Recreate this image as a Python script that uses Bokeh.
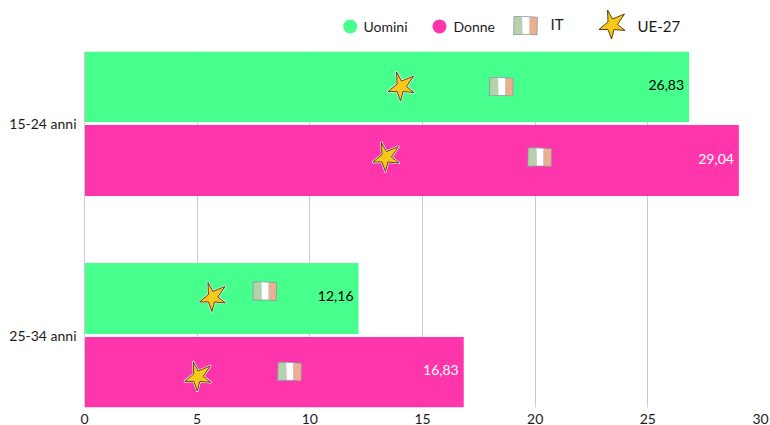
from urllib.parse import quote
from bokeh.embed import file_html
from bokeh.layouts import column
from bokeh.models import ColumnDataSource, FactorRange, Range1d, FixedTicker
from bokeh.plotting import figure
from bokeh.resources import INLINE
from bokeh.transform import dodge
from bokeh.core.properties import value

categories = ["15-24 anni", "25-34 anni"]
uomini = [26.83, 12.16]
donne = [29.04, 16.83]
it_uomini = [18.5, 8.0]
it_donne = [20.2, 9.1]
ue_uomini = [14.07, 5.7]
ue_donne = [13.4, 5.05]
legend_labels = ["Uomini", "Donne", "IT", "UE-27"]
x_ticks = [0, 5, 10, 15, 20, 25, 30]

GREEN = "#47ff8c"
PINK = "#ff36ab"
FONT = "Lato"

FLAG_SVG = (
    "<svg xmlns='http://www.w3.org/2000/svg' width='75' height='60' viewBox='0 0 25 20'>"
    "<path d='M1 1 L9 0.8 L9.5 19 L0.6 19.3 Z' fill='#b6d2aa'/>"
    "<path d='M9 0.8 L16.5 1.2 L16.5 19 L9.5 19 Z' fill='#ffffff'/>"
    "<path d='M16.5 1.2 L24.4 1.8 L24 19.6 L16.5 19 Z' fill='#ecb091'/>"
    "<path d='M1 1 L9 0.8 L16.5 1.2 L24.4 1.8 L24 19.6 L16.5 19 L9.5 19 L0.6 19.3 Z' fill='none' "
    "stroke='#8a94a6' stroke-width='0.8'/>"
    "<path d='M8.8 1 L9.3 19 M16.4 1.3 L16.5 19' stroke='#c4cbd4' stroke-width='0.5'/>"
    "</svg>"
)
STAR_PTS = "10,2 15,11 27,6 20,16.5 27.5,22.5 16.5,21.5 14,31 10.5,21.5 1.5,21.5 10.5,14"
STAR_SVG = (
    "<svg xmlns='http://www.w3.org/2000/svg' width='90' height='99' viewBox='0 0 30 33'>"
    f"<polygon points='{STAR_PTS}' fill='none' stroke='#f8f5ee' stroke-width='2.2' stroke-linejoin='round'/>"
    f"<polygon points='{STAR_PTS}' fill='#f9c818' stroke='#2a2015' stroke-width='0.8' stroke-linejoin='round'/>"
    "</svg>"
)
FLAG_URI = "data:image/svg+xml," + quote(FLAG_SVG)
STAR_URI = "data:image/svg+xml," + quote(STAR_SVG)

fmt = lambda v: f"{v:.2f}".replace(".", ",")
src = ColumnDataSource(dict(
    y=categories, uomini=uomini, donne=donne,
    lab_u=[fmt(v) for v in uomini], lab_d=[fmt(v) for v in donne],
))

UNIT = 212.0  # pixels per category band
OFF = 0.1745
p = figure(
    width=762, height=374, output_backend="svg", toolbar_location=None,
    x_range=Range1d(0, 30),
    y_range=FactorRange(factors=categories[::-1], range_padding=-0.16, range_padding_units="absolute"),
    frame_width=676, frame_height=356,
    min_border_left=77, min_border_right=9, min_border_top=0, min_border_bottom=18,
    outline_line_color=None, margin=(0, 0, 0, 0),
)
p.ygrid.visible = False
p.xgrid.grid_line_color = "#cccccc"
p.xgrid.grid_line_width = 1
p.xaxis.ticker = FixedTicker(ticks=x_ticks)
for ax in (p.xaxis[0], p.yaxis[0]):
    ax.major_tick_line_color = None
    ax.minor_tick_line_color = None
    ax.major_label_text_font = FONT
    ax.major_label_text_font_size = "14px"
    ax.major_label_text_color = "#1a1a1a"
p.xaxis.axis_line_color = None
p.xaxis.major_label_standoff = 0
p.yaxis.axis_line_color = "#cccccc"
p.yaxis.major_label_standoff = 2

p.hbar(y=dodge("y", OFF, range=p.y_range), right="uomini", left=0, height=0.335,
       source=src, color=GREEN, line_color=None)
p.hbar(y=dodge("y", -OFF, range=p.y_range), right="donne", left=0, height=0.335,
       source=src, color=PINK, line_color=None)

for col, lab, off, tcol in (("uomini", "lab_u", OFF, "#000000"), ("donne", "lab_d", -OFF, "#ffffff")):
    p.text(x=col, y=dodge("y", off, range=p.y_range), text=lab, source=src,
           text_align="right", text_baseline="middle", x_offset=-5, y_offset=-2,
           text_font=value(FONT), text_font_size="14px", text_color=tcol)

# the hand-drawn icons sit a little off the bar's centre line, in pixels
marks = (
    (it_uomini, OFF, FLAG_URI, 25, 20, (0, -7.5)),
    (it_donne, -OFF, FLAG_URI, 25, 20, (-3.5, -1)),
    (ue_uomini, OFF, STAR_URI, 30, 33, (0, -1.5)),
    (ue_donne, -OFF, STAR_URI, 30, 33, (-3.5, 4)),
)
for vals, off, uri, w, h, nudges in marks:
    for cat, val, nudge in zip(categories, vals, nudges):
        s = ColumnDataSource(dict(x=[val], y=[cat], url=[uri]))
        p.image_url(url="url", x="x", y=dodge("y", off - nudge / UNIT, range=p.y_range), w=w, h=h,
                    w_units="screen", h_units="screen", anchor="center", source=s)

# legend strip above the plot; its x and y are the page's pixels
leg = figure(
    width=762, height=43, output_backend="svg", toolbar_location=None,
    x_range=Range1d(85, 761), y_range=Range1d(51, 8),
    frame_width=676, frame_height=43,
    min_border_left=77, min_border_right=9, min_border_top=0, min_border_bottom=0,
    outline_line_color=None, margin=(0, 0, 0, 0),
)
leg.axis.visible = False
leg.grid.visible = False
leg.scatter(x=[350.7, 440], y=[26, 26], marker="circle", size=14, color=[GREEN, PINK], line_color=None)
leg.text(x=[364, 454], y=[26, 26], text=legend_labels[:2], text_baseline="middle",
         text_font=value(FONT), text_font_size="14px", text_color="#1a1a1a")
leg.text(x=[551, 638], y=[23.5, 25], text=legend_labels[2:], text_baseline="middle",
         text_font=value(FONT), text_font_size="15px", text_color="#1a1a1a")
leg.image_url(url=[FLAG_URI], x=[526], y=[25], w=25, h=20, w_units="screen", h_units="screen", anchor="center")
leg.image_url(url=[STAR_URI], x=[613], y=[24], w=30, h=33, w_units="screen", h_units="screen", anchor="center")

page = column(leg, p, spacing=0, margin=(8, -8, -8, 6))
open("out.html", "w").write(file_html(page, INLINE))
